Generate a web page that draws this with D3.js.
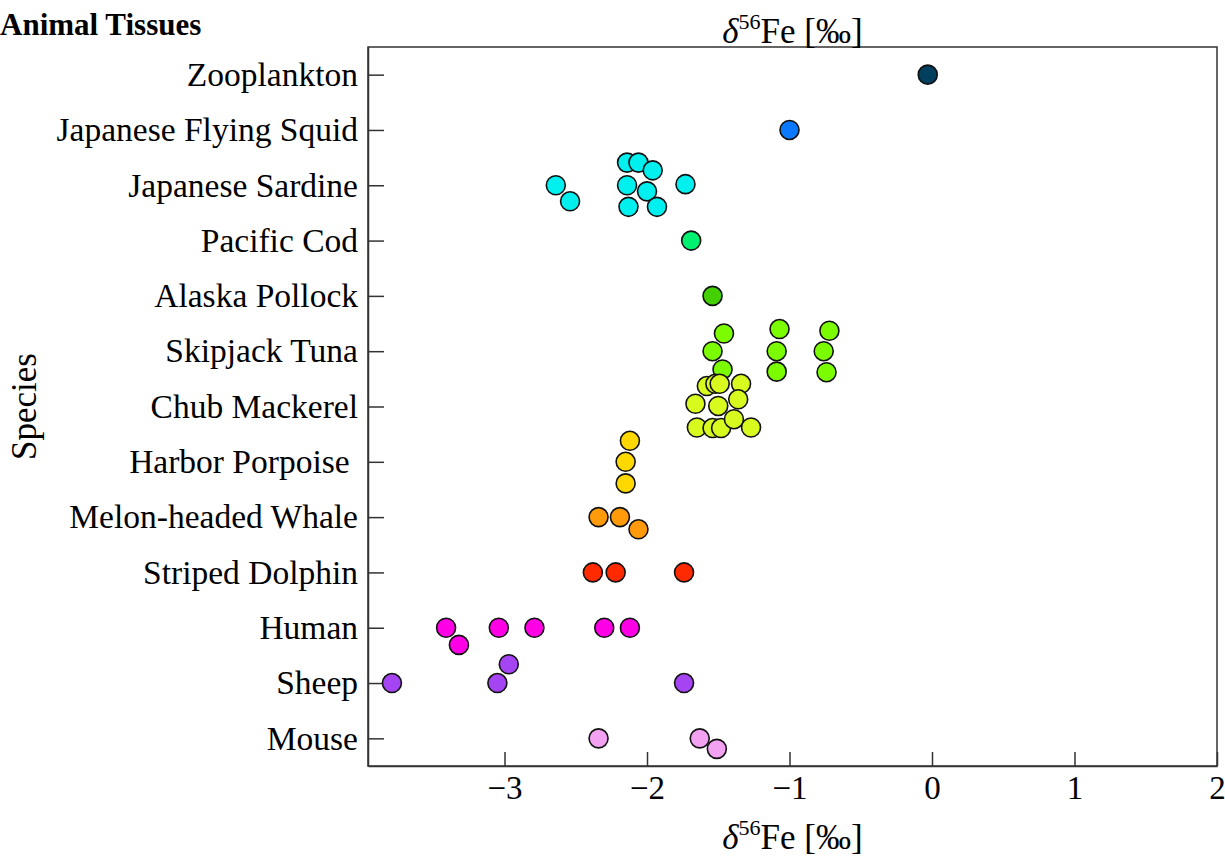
<!DOCTYPE html>
<html>
<head>
<meta charset="utf-8">
<script src="https://cdn.jsdelivr.net/npm/d3@7"></script>
<style>
  html, body { margin: 0; padding: 0; background: #fff; }
  svg { display: block; font-family: "Liberation Serif", "Times New Roman", serif; }
</style>
</head>
<body>
<svg id="chart" width="1225" height="857"></svg>
<script>
// ---- data ----
const categories = ["Zooplankton", "Japanese Flying Squid", "Japanese Sardine", "Pacific Cod",
  "Alaska Pollock", "Skipjack Tuna", "Chub Mackerel", "Harbor Porpoise ", "Melon-headed Whale",
  "Striped Dolphin", "Human", "Sheep", "Mouse"];
const colors = ["#00405e", "#0a78ff", "#00f0f0", "#00f070", "#44d000", "#7cfc00", "#d8fa1e",
  "#ffd800", "#ff9a0a", "#ff2a00", "#ff00e6", "#a444f2", "#f2a2f0"];
const zooplankton = [-0.03];
const squid = [-1.00];
const sardine = [-2.64, -2.54, -2.14, -2.06, -1.96, -2.14, -2.00, -1.73, -2.13, -1.93];
const cod = [-1.69];
const pollock = [-1.54];
const tuna = [-1.46, -1.54, -1.47, -1.07, -1.09, -1.09, -0.72, -0.76, -0.74];
const mackerel = [-1.58, -1.52, -1.49, -1.34, -1.66, -1.50, -1.36, -1.65, -1.54, -1.48, -1.39, -1.27];
const porpoise = [-2.12, -2.15, -2.15];
const melon = [-2.34, -2.19, -2.06];
const dolphin = [-2.38, -2.22, -1.74];
const human = [-3.41, -3.32, -3.04, -2.79, -2.30, -2.12];
const sheep = [-3.79, -3.05, -2.97, -1.74];
const mouse = [-2.34, -1.63, -1.51];
const values = [zooplankton, squid, sardine, cod, pollock, tuna, mackerel, porpoise, melon,
  dolphin, human, sheep, mouse];
// vertical jitter of each point, in category steps
const jitter = [
  [0], [0],
  [0, 0.29, -0.41, -0.41, -0.27, 0, 0.11, -0.02, 0.39, 0.39],
  [0], [0],
  [-0.32, 0, 0.33, -0.40, 0, 0.37, -0.37, 0, 0.38],
  [-0.37, -0.41, -0.41, -0.41, -0.05, -0.01, -0.13, 0.38, 0.39, 0.39, 0.23, 0.38],
  [-0.38, 0, 0.39],
  [0, 0, 0.22],
  [0, 0, 0],
  [0, 0.31, 0, 0, 0, 0],
  [0, 0, -0.34, 0],
  [0, 0, 0.19]
];
const xTicks = [-3, -2, -1, 0, 1, 2];
const xDomain = [-3.958, 2];

// ---- layout ----
const svg = d3.select("#chart");
const L = 368, R = 1217, T = 47, B = 766;
const x = d3.scaleLinear().domain(xDomain).range([L, R]);
const y = d3.scalePoint().domain(categories).range([T, B]).padding(0.5);
const step = y.step();

const points = [];
categories.forEach((c, i) => {
  values[i].forEach((v, j) => points.push({ cat: c, v, dy: jitter[i][j], color: colors[i] }));
});

// frame
svg.append("rect").attr("x", L).attr("y", T).attr("width", R - L).attr("height", B - T)
  .attr("fill", "none").attr("stroke", "#333").attr("stroke-width", 1.5);

// bottom axis, ticks inward
const xAxis = d3.axisBottom(x).tickValues(xTicks).tickSizeInner(-14).tickSizeOuter(0)
  .tickPadding(10).tickFormat(d => d < 0 ? "\u2212" + Math.abs(d) : String(d));
const gx = svg.append("g").attr("transform", `translate(0,${B})`).call(xAxis);
gx.select(".domain").attr("stroke", "#333").attr("stroke-width", 1.5);
gx.selectAll(".tick line").attr("stroke", "#333").attr("stroke-width", 1.5);
gx.selectAll(".tick text").attr("font-size", 33).attr("fill", "#000")
  .attr("font-family", "Liberation Serif");

// left axis, ticks inward
const yAxis = d3.axisLeft(y).tickSizeInner(-16).tickSizeOuter(0).tickPadding(10);
const gy = svg.append("g").attr("transform", `translate(${L},0)`).call(yAxis);
gy.select(".domain").attr("stroke", "#333").attr("stroke-width", 1.5);
gy.selectAll(".tick line").attr("stroke", "#333").attr("stroke-width", 1.5);
gy.selectAll(".tick text").attr("font-size", 33.5).attr("fill", "#000")
  .attr("font-family", "Liberation Serif").attr("xml:space", "preserve")
  .style("white-space", "pre");

// points
svg.append("g").selectAll("circle").data(points).join("circle")
  .attr("cx", d => x(d.v))
  .attr("cy", d => y(d.cat) + d.dy * step)
  .attr("r", 9.5)
  .attr("fill", d => d.color)
  .attr("stroke", "#111")
  .attr("stroke-width", 1.6);

// axis titles
function feLabel(yPos) {
  const t = svg.append("text").attr("x", (L + R) / 2).attr("y", yPos)
    .attr("text-anchor", "middle").attr("font-size", 35).attr("fill", "#000");
  t.append("tspan").attr("font-style", "italic").text("\u03b4");
  t.append("tspan").attr("font-size", 22).attr("dy", -14).text("56");
  t.append("tspan").attr("dy", 14).text("Fe [\u2030]");
}
feLabel(43);
feLabel(849);

svg.append("text")
  .attr("transform", `translate(36,${(T + B) / 2}) rotate(-90)`)
  .attr("text-anchor", "middle").attr("font-size", 35).attr("fill", "#000")
  .text("Species");

svg.append("text").attr("x", 0).attr("y", 35).attr("font-size", 31)
  .attr("font-weight", "bold").attr("fill", "#000").text("Animal Tissues");
</script>
</body>
</html>
